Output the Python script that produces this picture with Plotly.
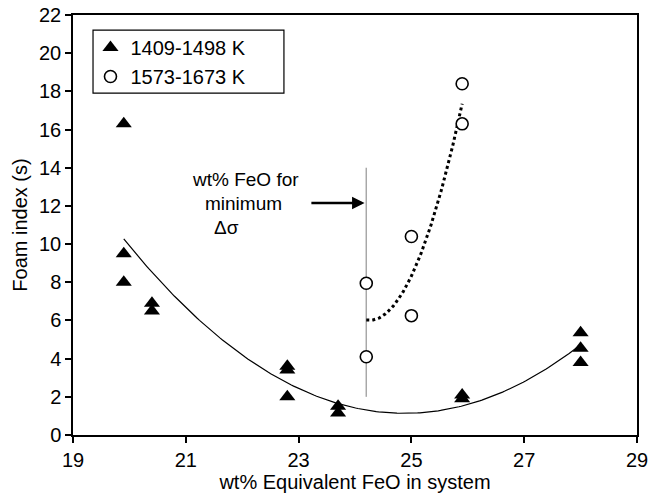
import numpy as np
import plotly.graph_objects as go

# Foam index measurements, low-temperature series (1409-1498 K)
low_feo = [19.9, 19.9, 19.9, 20.4, 20.4, 22.8, 22.8, 22.8, 23.7, 23.7, 25.9, 25.9, 28.0, 28.0, 28.0]
low_foam = [16.3, 9.5, 8.0, 6.9, 6.5, 3.6, 3.4, 2.0, 1.5, 1.15, 2.1, 1.9, 5.35, 4.55, 3.8]

# High-temperature series (1573-1673 K)
high_feo = [24.2, 24.2, 25.0, 25.0, 25.9, 25.9]
high_foam = [7.95, 4.1, 10.4, 6.25, 18.4, 16.3]

# FeO content giving minimum surface tension difference
feo_min_dsigma = 24.2
marker_line = [2.0, 14.0]

FONT = "Liberation Sans, Arial, sans-serif"

# second-order trend lines
low_fit = np.poly1d(np.polyfit(low_feo, low_foam, 2))
high_fit = np.poly1d(np.polyfit(high_feo, high_foam, 2))
xs_low = np.linspace(min(low_feo), max(low_feo), 200)
xs_high = np.linspace(min(high_feo), max(high_feo), 100)

fig = go.Figure()

fig.add_trace(go.Scatter(
    x=[feo_min_dsigma, feo_min_dsigma], y=marker_line, mode="lines",
    line=dict(color="#a8a8a8", width=1.5), showlegend=False, hoverinfo="skip"))

fig.add_trace(go.Scatter(
    x=xs_low, y=low_fit(xs_low), mode="lines",
    line=dict(color="black", width=1.2), showlegend=False, hoverinfo="skip"))

fig.add_trace(go.Scatter(
    x=xs_high, y=high_fit(xs_high), mode="lines",
    line=dict(color="black", width=3, dash="dot"), showlegend=False, hoverinfo="skip"))

fig.add_trace(go.Scatter(
    x=low_feo, y=low_foam, mode="markers", name="1409-1498 K",
    marker=dict(symbol="triangle-up", size=14, color="black")))

fig.add_trace(go.Scatter(
    x=high_feo, y=high_foam, mode="markers", name="1573-1673 K",
    marker=dict(symbol="circle", size=12, color="white",
                line=dict(color="black", width=1.6))))

# explanatory note with arrow
fig.add_annotation(x=22.05, y=13.4, text="wt% FeO for", showarrow=False,
                   font=dict(family=FONT, size=19, color="black"))
fig.add_annotation(x=22.02, y=12.15, text="minimum", showarrow=False,
                   font=dict(family=FONT, size=19, color="black"))
fig.add_annotation(x=21.73, y=10.85, text="Δσ", showarrow=False,
                   font=dict(family=FONT, size=19, color="black"))
fig.add_annotation(x=24.17, y=12.15, ax=23.2, ay=12.15, xref="x", yref="y",
                   axref="x", ayref="y", text="", showarrow=True,
                   arrowhead=2, arrowsize=1, arrowwidth=2.5, arrowcolor="black")

# legend frame
fig.add_shape(type="rect", xref="paper", yref="paper",
              x0=0.0355, x1=0.374, y0=0.814, y1=0.964,
              line=dict(color="black", width=1.2), fillcolor="rgba(0,0,0,0)")

axis_common = dict(
    showline=True, linecolor="black", linewidth=1.5, mirror=True,
    ticks="outside", ticklen=6, tickwidth=1.5, tickcolor="black",
    showgrid=False, zeroline=False,
    tickfont=dict(family=FONT, size=20, color="black"),
)

fig.update_xaxes(range=[19, 29], dtick=2, tick0=19,
                 title=dict(text="wt% Equivalent FeO in system",
                            font=dict(family=FONT, size=20, color="black"),
                            standoff=4),
                 **axis_common)
fig.update_yaxes(range=[0, 22], dtick=2, tick0=0,
                 title=dict(text="Foam index (s)",
                            font=dict(family=FONT, size=20, color="black"),
                            standoff=6),
                 **axis_common)

fig.update_layout(
    width=653, height=498,
    margin=dict(l=73, r=16, t=15, b=63, autoexpand=False),
    plot_bgcolor="white", paper_bgcolor="white",
    font=dict(family=FONT, size=20, color="black"),
    legend=dict(x=0.031, y=0.969, xanchor="left", yanchor="top",
                borderwidth=0, bgcolor="rgba(0,0,0,0)",
                font=dict(family=FONT, size=20, color="black"),
                itemwidth=30, tracegroupgap=0),
)

fig.write_html("out.html")
